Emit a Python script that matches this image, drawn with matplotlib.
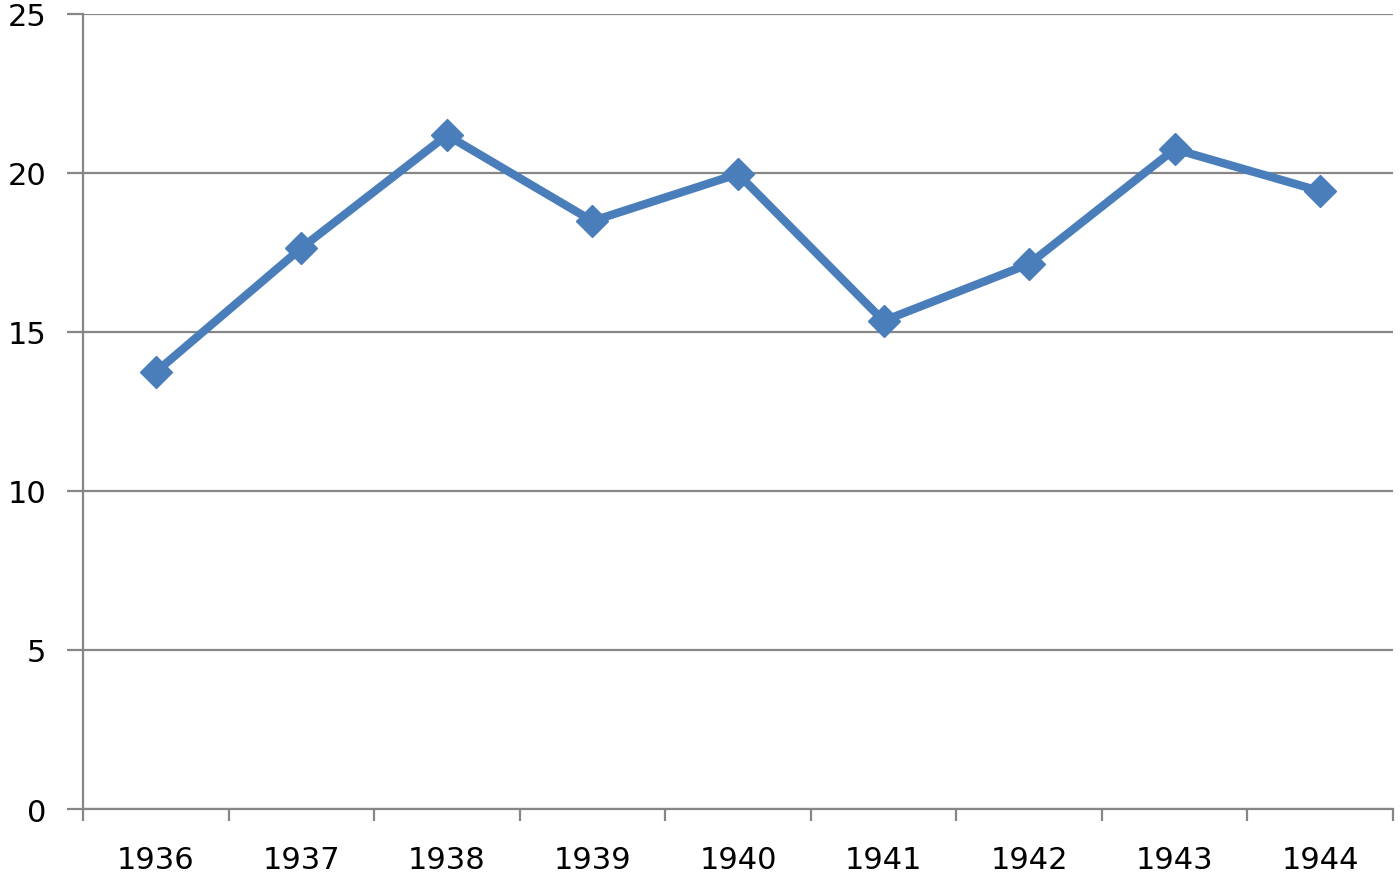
import matplotlib.pyplot as plt
import numpy as np

# yearly values
years = ['1936', '1937', '1938', '1939', '1940', '1941', '1942', '1943', '1944']
values = [13.74, 17.64, 21.19, 18.49, 19.97, 15.35, 17.14, 20.75, 19.43]

grid_c = '#868686'
line_c = '#4A7EBB'

fig = plt.figure(figsize=(14, 8.79), dpi=100)
ax = fig.add_axes([83/1400, 1 - 810/879, (1393 - 83)/1400, (810 - 15)/879])

x = np.arange(len(years))
ax.plot(x, values, color=line_c, lw=6, marker='D', markersize=16,
        markeredgecolor=line_c, zorder=3, clip_on=False)

ax.set_xlim(-0.5, len(years) - 0.5)
ax.set_ylim(0, 25)
ax.set_yticks([0, 5, 10, 15, 20, 25])
ax.yaxis.grid(True, color=grid_c, lw=1.6)
ax.set_axisbelow(True)

# category labels in the middle, tick marks on the boundaries
ax.set_xticks(x)
ax.set_xticklabels(years)
ax.set_xticks(np.arange(-0.5, len(years)), minor=True)
ax.tick_params(axis='x', which='major', length=0, pad=26, labelsize=22)
ax.tick_params(axis='x', which='minor', length=8.6, width=1.6, color=grid_c)
ax.tick_params(axis='y', length=11.5, width=1.6, color=grid_c, pad=15, labelsize=22)

for s in ['top', 'right']:
    ax.spines[s].set_visible(False)
for s in ['left', 'bottom']:
    ax.spines[s].set_color(grid_c)
    ax.spines[s].set_linewidth(1.6)

plt.savefig('out.png', dpi=100)
plt.close(fig)
